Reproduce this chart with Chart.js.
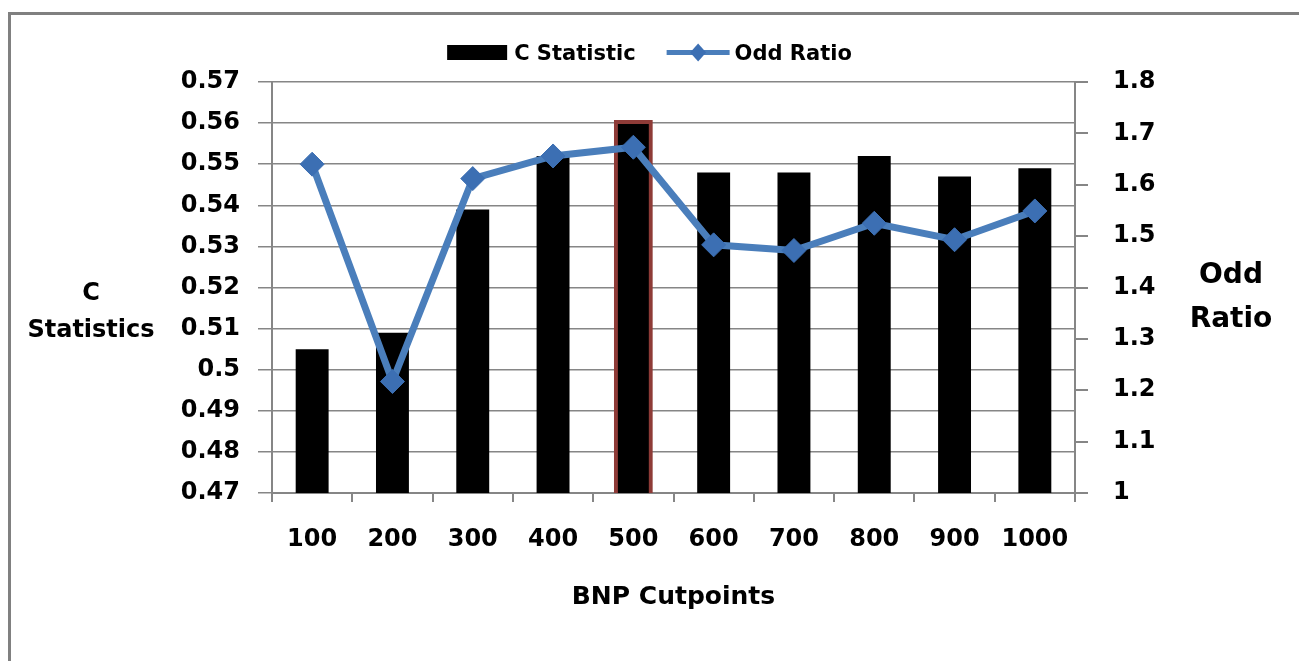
<!DOCTYPE html>
<html>
<head>
<meta charset="utf-8">
<script src="https://cdn.jsdelivr.net/npm/chart.js@4.4.0/dist/chart.umd.min.js"></script>
<style>
  html, body { margin: 0; padding: 0; background: #fff; }
  #wrap { position: relative; width: 1299px; height: 661px; }
</style>
</head>
<body>
<div id="wrap"><canvas id="c" width="1299" height="661"></canvas></div>
<script>
// ---- data ----
const categories = ['100', '200', '300', '400', '500', '600', '700', '800', '900', '1000'];
const cStatistic = [0.505, 0.509, 0.539, 0.552, 0.560, 0.548, 0.548, 0.552, 0.547, 0.549];
const oddRatio   = [1.640, 1.217, 1.612, 1.656, 1.673, 1.483, 1.472, 1.525, 1.493, 1.549];
const leftTicks  = [0.47, 0.48, 0.49, 0.50, 0.51, 0.52, 0.53, 0.54, 0.55, 0.56, 0.57];
const rightTicks = [1.0, 1.1, 1.2, 1.3, 1.4, 1.5, 1.6, 1.7, 1.8];
const seriesNames = ['C Statistic', 'Odd Ratio'];
const axisTitles = { left: ['C', 'Statistics'], right: ['Odd', 'Ratio'], bottom: 'BNP Cutpoints' };
const highlightIndex = 4;

// ---- styles ----
const FONT = '"DejaVu Sans", Verdana, sans-serif';
const GRID = '#868686';
const BLUE = '#4a7ebb';
const MARK = '#3c6fb3';
const HILITE = '#8e3b37';

const deco = {
  id: 'deco',
  beforeDraw(chart) {
    const ctx = chart.ctx;
    ctx.save();
    ctx.fillStyle = '#fff';
    ctx.fillRect(0, 0, chart.width, chart.height);
    ctx.fillStyle = '#808080';
    ctx.fillRect(8, 12, chart.width - 8, 3);
    ctx.fillRect(8, 12, 3, chart.height - 12);
    ctx.restore();
  },
  afterDraw(chart) {
    const ctx = chart.ctx;
    const ca = chart.chartArea;
    ctx.save();
    ctx.fillStyle = '#000';
    // left title
    ctx.font = 'bold 24px ' + FONT;
    ctx.textAlign = 'center';
    ctx.textBaseline = 'alphabetic';
    ctx.fillText(axisTitles.left[0], 91, 300);
    ctx.fillText(axisTitles.left[1], 91, 337);
    // right title
    ctx.font = 'bold 28px ' + FONT;
    ctx.fillText(axisTitles.right[0], 1231, 283);
    ctx.fillText(axisTitles.right[1], 1231, 327);
    // bottom title
    ctx.font = 'bold 25px ' + FONT;
    ctx.fillText(axisTitles.bottom, (ca.left + ca.right) / 2, 604);

    // legend
    ctx.font = 'bold 21px ' + FONT;
    ctx.textAlign = 'left';
    const w1 = ctx.measureText(seriesNames[0]).width;
    const w2 = ctx.measureText(seriesNames[1]).width;
    const total = 60 + 7 + w1 + 31 + 63 + 5 + w2;
    let x = chart.width / 2 - total / 2;
    const yc = 52.5;
    ctx.fillStyle = '#000';
    ctx.fillRect(x, 45, 60, 15);
    x += 67;
    ctx.fillText(seriesNames[0], x, 60);
    x += w1 + 31;
    ctx.strokeStyle = BLUE;
    ctx.lineWidth = 5;
    ctx.beginPath();
    ctx.moveTo(x, yc); ctx.lineTo(x + 63, yc);
    ctx.stroke();
    const cx = x + 31.5;
    ctx.fillStyle = MARK;
    ctx.beginPath();
    ctx.moveTo(cx, yc - 9); ctx.lineTo(cx + 8, yc); ctx.lineTo(cx, yc + 9); ctx.lineTo(cx - 8, yc);
    ctx.closePath();
    ctx.fill();
    x += 68;
    ctx.fillStyle = '#000';
    ctx.fillText(seriesNames[1], x, 60);
    ctx.restore();
  }
};

const fmt = v => String(parseFloat(Number(v).toFixed(2)));

new Chart(document.getElementById('c'), {
  type: 'bar',
  data: {
    labels: categories,
    datasets: [
      {
        type: 'bar',
        label: seriesNames[0],
        data: cStatistic,
        yAxisID: 'y',
        order: 1,
        backgroundColor: '#000',
        borderColor: ctx => ctx.dataIndex === highlightIndex ? HILITE : '#000',
        borderWidth: ctx => ctx.dataIndex === highlightIndex ? 4 : 0,
        inflateAmount: ctx => ctx.dataIndex === highlightIndex ? 3 : 0,
        borderSkipped: false,
        categoryPercentage: 1.0,
        barPercentage: 0.41
      },
      {
        type: 'line',
        label: seriesNames[1],
        data: oddRatio,
        yAxisID: 'y1',
        order: 0,
        borderColor: BLUE,
        borderWidth: 7,
        pointStyle: 'rectRot',
        pointRadius: 12,
        pointHoverRadius: 12,
        pointBackgroundColor: MARK,
        pointBorderColor: MARK,
        pointBorderWidth: 1,
        tension: 0,
        fill: false
      }
    ]
  },
  options: {
    responsive: false,
    animation: false,
    events: [],
    layout: { padding: { top: 82, left: 0, right: 0, bottom: 0 } },
    plugins: {
      legend: { display: false },
      tooltip: { enabled: false },
      title: { display: false }
    },
    scales: {
      x: {
        offset: true,
        grid: { display: true, drawOnChartArea: false, drawTicks: true, tickLength: 9, color: GRID, lineWidth: 2, offset: true },
        border: { display: true, color: GRID, width: 2 },
        ticks: { color: '#000', font: { family: FONT, size: 24, weight: 'bold' }, padding: 23, maxRotation: 0, autoSkip: false },
        afterFit: s => { s.height = 168; }
      },
      y: {
        position: 'left',
        min: leftTicks[0],
        max: leftTicks[leftTicks.length - 1],
        afterBuildTicks: s => { s.ticks = leftTicks.map(v => ({ value: v })); },
        grid: { color: GRID, lineWidth: 1.5, drawTicks: true, tickLength: 14, tickColor: GRID },
        border: { display: true, color: GRID, width: 2 },
        ticks: { color: '#000', font: { family: FONT, size: 24, weight: 'bold' }, padding: 18, callback: v => fmt(v) },
        afterFit: s => { s.width = 272; }
      },
      y1: {
        position: 'right',
        min: rightTicks[0],
        max: rightTicks[rightTicks.length - 1],
        afterBuildTicks: s => { s.ticks = rightTicks.map(v => ({ value: v })); },
        grid: { drawOnChartArea: false, drawTicks: true, tickLength: 13, color: GRID, lineWidth: 2 },
        border: { display: true, color: GRID, width: 2 },
        ticks: { color: '#000', font: { family: FONT, size: 24, weight: 'bold' }, padding: 25, callback: v => fmt(v) },
        afterFit: s => { s.width = 224; }
      }
    }
  },
  plugins: [deco]
});
</script>
</body>
</html>
